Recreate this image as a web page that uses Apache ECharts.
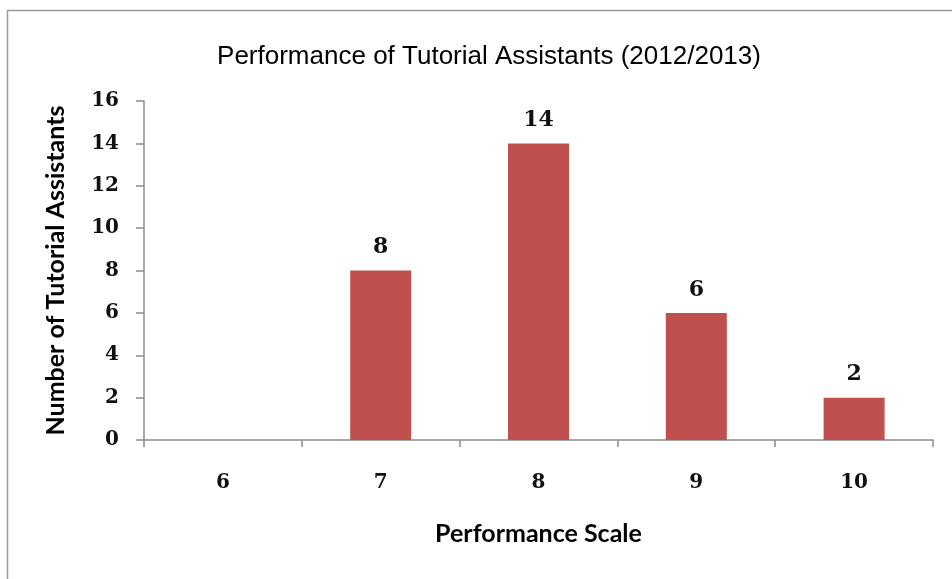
<!DOCTYPE html>
<html>
<head>
<meta charset="utf-8">
<script src="https://cdn.jsdelivr.net/npm/echarts@6/dist/echarts.min.js"></script>
<style>
  html, body { margin: 0; padding: 0; background: #fff; }
  #chart { width: 952px; height: 579px; }
</style>
</head>
<body>
<div id="chart"></div>
<script>
// Performance scale categories and the number of tutorial assistants in each
const scaleCategories = ['6', '7', '8', '9', '10'];
const assistantCounts = [null, 8, 14, 6, 2];
const yTicks = { min: 0, max: 16, step: 2 };

const chart = echarts.init(document.getElementById('chart'), null, { renderer: 'canvas' });

const axisGray = '#8c8c8c';
const tickFont = 'DejaVu Serif';

chart.setOption({
  backgroundColor: '#ffffff',
  animation: false,
  graphic: [{
    type: 'polyline',
    shape: { points: [[7.5, 600], [7.5, 10.5], [1000, 10.5]] },
    style: { stroke: '#9a9a9a', lineWidth: 1.5, fill: null },
    silent: true
  }],
  title: {
    text: 'Performance of Tutorial Assistants (2012/2013)',
    left: 484,
    textAlign: 'center',
    top: 39,
    textStyle: {
      fontFamily: 'Liberation Sans',
      fontWeight: 'normal',
      fontSize: 26,
      color: '#000'
    }
  },
  grid: { left: 144, right: 19, top: 101, bottom: 139, containLabel: false },
  xAxis: {
    type: 'category',
    data: scaleCategories,
    name: 'Performance Scale',
    nameLocation: 'middle',
    nameGap: 81,
    nameTextStyle: { fontFamily: 'Lato', fontWeight: 'bold', fontSize: 25, color: '#000' },
    axisLine: { lineStyle: { color: axisGray, width: 1.5 } },
    axisTick: { show: true, length: 7, alignWithLabel: false, lineStyle: { color: axisGray, width: 1.5 } },
    axisLabel: { margin: 33, fontFamily: tickFont, fontWeight: 'bold', fontSize: 20, color: '#111' },
    splitLine: { show: false }
  },
  yAxis: {
    type: 'value',
    min: yTicks.min,
    max: yTicks.max,
    interval: yTicks.step,
    name: 'Number of Tutorial Assistants',
    nameLocation: 'middle',
    nameGap: 76,
    nameRotate: 90,
    nameTextStyle: { fontFamily: 'Lato', fontWeight: 'bold', fontSize: 25, color: '#000' },
    axisLine: { show: true, lineStyle: { color: axisGray, width: 1.5 } },
    axisTick: { show: true, length: 8, lineStyle: { color: axisGray, width: 1.5 } },
    axisLabel: { margin: 25, fontFamily: tickFont, fontWeight: 'bold', fontSize: 20, color: '#111' },
    splitLine: { show: false }
  },
  series: [{
    type: 'bar',
    data: assistantCounts,
    barWidth: 61,
    itemStyle: { color: '#C0504D' },
    label: {
      show: true,
      position: 'top',
      distance: 12,
      fontFamily: tickFont,
      fontWeight: 'bold',
      fontSize: 22,
      color: '#111'
    }
  }]
});
</script>
</body>
</html>
